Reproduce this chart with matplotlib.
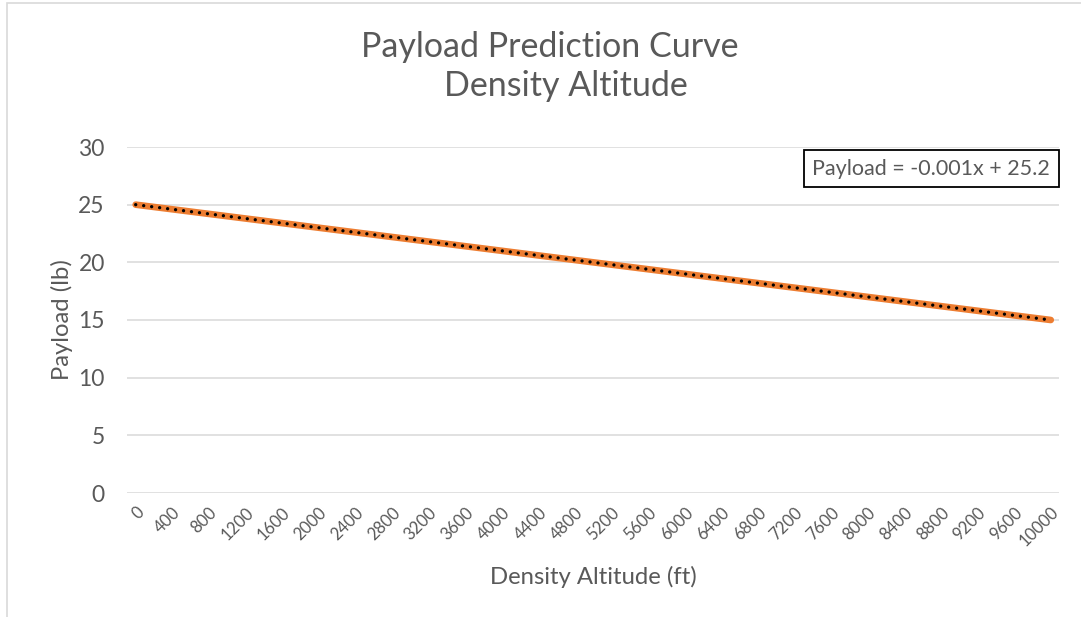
import numpy as np
import matplotlib
matplotlib.use("Agg")
import matplotlib.pyplot as plt
from matplotlib.patches import Rectangle

W, H = 1081, 617
plt.rcParams['font.family'] = ['Lato', 'DejaVu Sans']
GREY = '#595959'
GRID = '#D9D9D9'
ORANGE = '#ED7D31'

altitude = [0, 400, 800, 1200, 1600, 2000, 2400, 2800, 3200, 3600, 4000, 4400, 4800,
            5200, 5600, 6000, 6400, 6800, 7200, 7600, 8000, 8400, 8800, 9200, 9600, 10000]
payload = [25.0, 24.6, 24.2, 23.8, 23.4, 23.0, 22.6, 22.2, 21.8, 21.4, 21.0, 20.6, 20.2,
           19.8, 19.4, 19.0, 18.6, 18.2, 17.8, 17.4, 17.0, 16.6, 16.2, 15.8, 15.4, 15.0]
y_ticks = [0, 5, 10, 15, 20, 25, 30]
title_lines = ["Payload Prediction Curve", "Density Altitude"]
equation = "Payload = -0.001x + 25.2"

def fx(px):
    return px / W

def fy(py):
    return 1 - py / H

fig = plt.figure(figsize=(W / 100, H / 100), dpi=100)
ax = fig.add_axes([fx(127), fy(493), fx(1059) - fx(127), fy(147) - fy(493)])

# data line
ax.plot(altitude, payload, color=ORANGE, lw=4.8, solid_capstyle='round', zorder=3)

# linear trendline, dotted black
x = np.array(altitude, dtype=float)
k, b = np.polyfit(x, payload, 1)
ax.plot(x, k * x + b, color='black', lw=2.4, linestyle=(0, (0.01, 2.4)),
        dash_capstyle='round', zorder=4)

ax.set_xlim(-95, 10090)
ax.set_ylim(0, 30)
ax.set_yticks(y_ticks)
ax.set_xticks(altitude)
ax.set_xticklabels([str(a) for a in altitude], rotation=45, ha='right', va='top',
                   rotation_mode='anchor', fontsize=12, color=GREY)
ax.tick_params(axis='x', length=0, pad=8)
ax.tick_params(axis='y', length=0, pad=16, labelsize=16.5, labelcolor=GREY)
ax.grid(axis='y', color=GRID, lw=1.1)
ax.set_axisbelow(True)
for s in ax.spines.values():
    s.set_visible(False)

ax.set_xlabel("Density Altitude (ft)", fontsize=17.2, color=GREY, labelpad=12)
ax.set_ylabel("Payload (lb)", fontsize=17.2, color=GREY, labelpad=4)

# title
fig.text(fx(550), fy(57), title_lines[0], ha='center', va='baseline', fontsize=24.5, color=GREY)
fig.text(fx(566), fy(96), title_lines[1], ha='center', va='baseline', fontsize=24.5, color=GREY)

# equation box
fig.patches.append(Rectangle((fx(804), fy(187)), fx(1059) - fx(804), fy(150) - fy(187),
                             transform=fig.transFigure, fill=False, edgecolor='black', lw=1.3))
fig.text(fx(931), fy(169), equation, ha='center', va='center', fontsize=15.5, color=GREY)

# chart border
fig.patches.append(Rectangle((fx(6.5), -0.1), 1.2, fy(2.5) + 0.1,
                             transform=fig.transFigure, fill=False, edgecolor=GRID, lw=1.2))

fig.savefig("out.png", dpi=100)
